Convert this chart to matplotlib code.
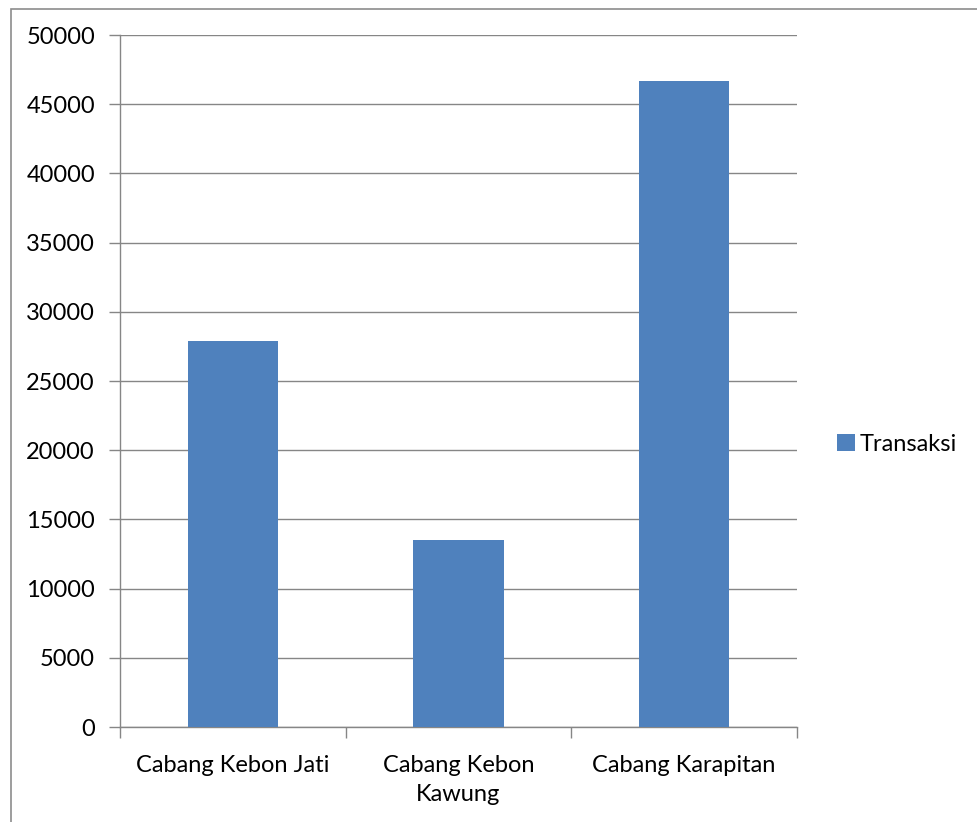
import matplotlib
matplotlib.use("Agg")
import matplotlib.pyplot as plt
from matplotlib.patches import Rectangle
import numpy as np

categories = ["Cabang Kebon Jati", "Cabang Kebon\nKawung", "Cabang Karapitan"]
transaksi = [27900, 13500, 46650]
y_ticks = [0, 5000, 10000, 15000, 20000, 25000, 30000, 35000, 40000, 45000, 50000]
series_name = "Transaksi"

plt.rcParams["font.family"] = ["Lato", "DejaVu Sans"]
bar_color = "#4F81BD"
line_gray = "#868686"
fs = 17

W, H = 978, 822
fig = plt.figure(figsize=(W / 100, H / 100), dpi=100)
ax = fig.add_axes([120 / W, 1 - 727 / H, (797 - 120) / W, (727 - 35) / H])

# outer chart frame
fig.patches.append(Rectangle((11 / W, -0.1), 1.2, 1 - 9 / H + 0.1,
                             transform=fig.transFigure, fill=False,
                             edgecolor="#8c8c8c", linewidth=1.2, zorder=0))

x = np.arange(len(categories))
ax.bar(x, transaksi, width=0.4, color=bar_color, zorder=3, label=series_name)

ax.set_xlim(-0.5, len(categories) - 0.5)
ax.set_ylim(0, 50000)
ax.set_yticks(y_ticks)
ax.set_yticklabels([str(v) for v in y_ticks], fontsize=fs, color="black")
ax.yaxis.grid(True, color=line_gray, linewidth=1.0, zorder=0)
ax.set_axisbelow(True)

ax.set_xticks(x)
ax.set_xticklabels(categories, fontsize=fs, linespacing=1.5, color="black")
ax.set_xticks(np.arange(len(categories) + 1) - 0.5, minor=True)
ax.tick_params(axis="x", which="major", length=0, pad=20)
ax.tick_params(axis="x", which="minor", length=8, color=line_gray, width=1.0, direction="out")
ax.tick_params(axis="y", length=8, color=line_gray, width=1.0, direction="out", pad=10)

for side in ["top", "right"]:
    ax.spines[side].set_visible(False)
for side in ["left", "bottom"]:
    ax.spines[side].set_color(line_gray)
    ax.spines[side].set_linewidth(1.0)

ax.legend(loc="center left", bbox_to_anchor=(828 / W, 1 - 444 / H),
          bbox_transform=fig.transFigure, frameon=False, fontsize=fs,
          handlelength=0.75, handleheight=0.75, handletextpad=0.2, borderaxespad=0)

fig.savefig("out.png", dpi=100)
